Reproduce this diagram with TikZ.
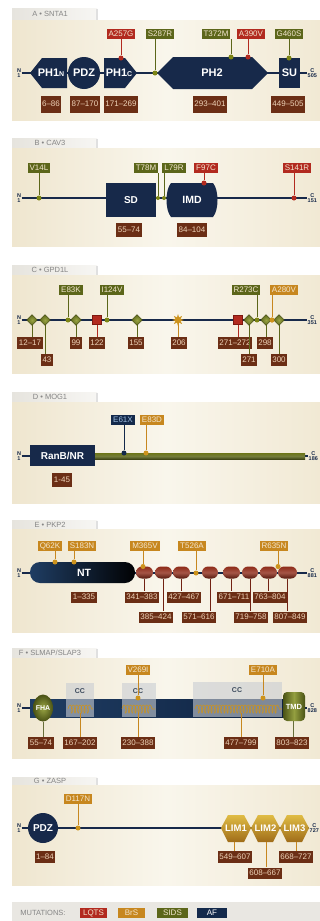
\documentclass[tikz,border=0pt]{standalone}
\usepackage{fontspec}
\setmainfont{Liberation Sans}
\usetikzlibrary{shapes.geometric,shapes.misc,decorations.pathmorphing,calc}
\definecolor{navy}{HTML}{17294A}
\definecolor{lqts}{HTML}{B22A1F}
\definecolor{lqtsd}{HTML}{7E1810}
\definecolor{brs}{HTML}{C7871F}
\definecolor{sids}{HTML}{5C661A}
\definecolor{sidsl}{HTML}{9AA544}
\definecolor{afc}{HTML}{13294B}
\definecolor{brn}{HTML}{6B2E15}
\definecolor{mtext}{HTML}{F3E6CF}
\definecolor{rtext}{HTML}{EED3B8}
\definecolor{afblue}{HTML}{9DBDE0}
\definecolor{tabL}{HTML}{E6E4DE}
\definecolor{tabR}{HTML}{F7F6F3}
\definecolor{bodyL}{HTML}{EFE6CF}
\definecolor{bodyM}{HTML}{F9F6EC}
\definecolor{bodyR}{HTML}{F1E9D4}
\definecolor{legbg}{HTML}{E9E7E2}
\definecolor{tabtext}{HTML}{858585}
\definecolor{ccgrey}{HTML}{C9CDD3}
\definecolor{cctext}{HTML}{3C4A5C}
\definecolor{repred}{HTML}{8E2A18}
\definecolor{barL}{HTML}{1F3D63}
\definecolor{barR}{HTML}{0F2240}
\tikzset{
  tabtxt/.style={text=tabtext, font=\fontsize{7.5}{8}\selectfont, inner sep=0pt},
  mut/.style={inner xsep=2pt, inner ysep=0pt, minimum height=10pt, text=mtext, font=\fontsize{8}{8}\selectfont},
  lq/.style={mut, fill=lqts},
  br/.style={mut, fill=brs},
  si/.style={mut, fill=sids},
  af/.style={mut, fill=afc, text=afblue},
  rng/.style={fill=brn, text=rtext, inner xsep=1.5pt, inner ysep=0pt, minimum height=12pt, font=\fontsize{8}{8}\selectfont},
  dom/.style={text=white, inner sep=0pt, font=\bfseries\fontsize{11}{11}\selectfont},
  endlab/.style={font=\bfseries\fontsize{5.5}{5.5}\selectfont, align=center, text=navy, inner sep=0.5pt},
  stem/.style={line width=0.8pt},
  bb/.style={draw=navy, line width=1.2pt},
  mdot/.style={circle, inner sep=0pt, minimum size=5pt},
  dmd/.style={diamond, inner sep=0pt, minimum size=11pt, shade, inner color=sidsl, outer color=sids, draw=sids!70!black, line width=0.3pt},
  sqr/.style={rectangle, inner sep=0pt, minimum size=9pt, fill=lqts, draw=lqtsd, line width=0.4pt},
  rep/.style={rounded rectangle, inner sep=0pt, minimum height=12pt, top color=repred, bottom color=repred!60!black, middle color=repred!80!white},
  coilline/.style={brs!90!yellow, line width=0.55pt, decorate, decoration={coil, aspect=0.35, segment length=3.2pt, amplitude=4pt}},
}
\newcommand{\mypanel}[5]{%
  \shade[left color=tabL, right color=tabR] (12,#1) rectangle (97,#2);
  \fill[black!12] (96,#1+1) rectangle (97.5,#2);
  \node[tabtxt] (#5) at (50,{(#1+#2)/2}) {#4};
  \shade[left color=bodyL, right color=bodyR, middle color=bodyM] (12,#2) rectangle (320,#3);
}
\begin{document}
\begin{tikzpicture}[x=1pt,y=-1pt]
\useasboundingbox (0,0) rectangle (320,921);
\fill[white] (0,0) rectangle (320,921);

% ================= A  SNTA1
\mypanel{8}{20}{120}{A \textbullet{} SNTA1}{tabA}
\node[endlab] (nA) at (19,73) {N\\1};
\node[endlab, anchor=west] (cA) at (307,73) {C\\505};
\draw[bb] (nA.east) -- (cA.west);
\fill[navy] (30,73) -- (42,58) -- (67,58) -- (67,88) -- (42,88) -- cycle;
\node[dom] (ph1n) at (51,73) {PH1{\fontsize{7}{7}\selectfont N}};
\fill[navy] (84,73) circle[radius=16pt];
\node[dom] (pdzA) at (84,73) {PDZ};
\fill[navy] (104,58) -- (125,58) -- (137,73) -- (125,88) -- (104,88) -- cycle;
\node[dom] (ph1c) at (119,73) {PH1{\fontsize{7}{7}\selectfont C}};
\fill[navy] (157,73) -- (173,57) -- (252,57) -- (268,73) -- (252,89) -- (173,89) -- cycle;
\node[dom] (ph2) at (212,73) {PH2};
\fill[navy] (279,58) rectangle (300,88);
\node[dom] (su) at (289.5,73) {SU};
% mutations
\node[lq] (mA1) at (121,34) {A257G};
\node[si] (mA2) at (160,34) {S287R};
\node[si] (mA3) at (216,34) {T372M};
\node[lq] (mA4) at (251,34) {A390V};
\node[si] (mA5) at (289,34) {G460S};
\node[mdot, fill=lqts] (pA1) at (121,58) {};
\node[mdot, fill=sids!80!yellow] (pA2) at (155,73) {};
\node[mdot, fill=sids!80!yellow] (pA3) at (231,57) {};
\node[mdot, fill=lqts] (pA4) at (248,57) {};
\node[mdot, fill=sids!80!yellow] (pA5) at (289,58) {};
\draw[stem, lqts] (mA1.south -| pA1) -- (pA1);
\draw[stem, sids] (mA2.south -| pA2) -- (pA2);
\draw[stem, sids] (mA3.south -| pA3) -- (pA3);
\draw[stem, lqts] (mA4.south -| pA4) -- (pA4);
\draw[stem, sids] (mA5.south -| pA5) -- (pA5);
% ranges
\node[rng, minimum height=17pt] (rA1) at (51,104) {6–86};
\node[rng, minimum height=17pt] (rA2) at (85,104) {87–170};
\node[rng, minimum height=17pt] (rA3) at (121,104) {171–269};
\node[rng, minimum height=17pt] (rA4) at (210,104) {293–401};
\node[rng, minimum height=17pt] (rA5) at (288,104) {449–505};

% ================= B  CAV3
\mypanel{138}{148}{246}{B \textbullet{} CAV3}{tabB}
\node[endlab] (nB) at (19,198) {N\\1};
\node[endlab, anchor=west] (cB) at (307,198) {C\\151};
\draw[bb] (nB.east) -- (cB.west);
\fill[navy] (106,183) rectangle (156,217);
\node[dom, font=\bfseries\fontsize{10}{10}\selectfont] (sd) at (131,200) {SD};
\fill[navy] (171,183) -- (213,183) .. controls (219,190) and (219,210) .. (213,217) -- (171,217) .. controls (165,210) and (165,190) .. (171,183) -- cycle;
\node[dom, font=\bfseries\fontsize{10.5}{10.5}\selectfont] (imd) at (192,200) {IMD};
\node[si] (mB1) at (39,168) {V14L};
\node[si] (mB2) at (146,168) {T78M};
\node[si] (mB3) at (174,168) {L79R};
\node[lq] (mB4) at (206,168) {F97C};
\node[lq] (mB5) at (297,168) {S141R};
\node[mdot, fill=sids!80!yellow] (pB1) at (39,198) {};
\node[mdot, fill=sids!80!yellow, minimum size=4pt] (pB2) at (158,198) {};
\node[mdot, fill=sids!80!yellow, minimum size=4pt] (pB3) at (164,198) {};
\node[mdot, fill=lqts] (pB4) at (204,183) {};
\node[mdot, fill=lqts] (pB5) at (294,198) {};
\draw[stem, sids] (mB1.south -| pB1) -- (pB1);
\draw[stem, sids] (mB2.south -| pB2) -- (pB2);
\draw[stem, sids] (mB3.south -| pB3) -- (pB3);
\draw[stem, lqts] (mB4.south -| pB4) -- (pB4);
\draw[stem, lqts] (mB5.south -| pB5) -- (pB5);
\node[rng, minimum height=14pt] (rB1) at (129,230) {55–74};
\node[rng, minimum height=14pt] (rB2) at (192,230) {84–104};

% ================= C  GPD1L
\mypanel{265}{275}{373}{C \textbullet{} GPD1L}{tabC}
\node[endlab] (nC) at (19,320) {N\\1};
\node[endlab, anchor=west] (cC) at (307,320) {C\\351};
\draw[bb] (nC.east) -- (cC.west);
\node[si] (mC1) at (71,290) {E83K};
\node[si] (mC2) at (112,290) {I124V};
\node[si] (mC3) at (246,290) {R273C};
\node[br] (mC4) at (284,290) {A280V};
\node[mdot, fill=sids!80!yellow] (pC1) at (68,320) {};
\node[mdot, fill=sids!80!yellow] (pC2) at (107,320) {};
\node[mdot, fill=sids!80!yellow] (pC3) at (257,320) {};
\node[mdot, fill=brs!90!yellow] (pC4) at (272,320) {};
\draw[stem, sids] (mC1.south -| pC1) -- (pC1);
\draw[stem, sids] (mC2.south -| pC2) -- (pC2);
\draw[stem, sids] (mC3.south -| pC3) -- (pC3);
\draw[stem, brs] (mC4.south -| pC4) -- (pC4);
% ranges
\node[rng] (rC1) at (30,343) {12–17};
\node[rng] (rC2) at (47,360) {43};
\node[rng] (rC3) at (76,343) {99};
\node[rng] (rC4) at (97,343) {122};
\node[rng] (rC5) at (136,343) {155};
\node[rng] (rC6) at (179,343) {206};
\node[rng] (rC7) at (235,343) {271–272};
\node[rng] (rC8) at (249,360) {271};
\node[rng] (rC9) at (265,343) {298};
\node[rng] (rC10) at (279,360) {300};
% features
\coordinate (fC1) at (32,320);
\coordinate (fC2) at (45,320);
\coordinate (fC3) at (76,320);
\coordinate (fC4) at (97,320);
\coordinate (fC5) at (137,320);
\coordinate (fC6) at (178,320);
\coordinate (fC7) at (238,320);
\coordinate (fC8) at (249,320);
\coordinate (fC9) at (266,320);
\coordinate (fC10) at (279,320);
\draw[stem, sids] (fC1) -- (fC1 |- rC1.north);
\draw[stem, sids] (fC2) -- (fC2 |- rC2.north);
\draw[stem, sids] (fC3) -- (fC3 |- rC3.north);
\draw[stem, lqts] (fC4) -- (fC4 |- rC4.north);
\draw[stem, sids] (fC5) -- (fC5 |- rC5.north);
\draw[stem, brs] (fC6) -- (fC6 |- rC6.north);
\draw[stem, lqts] (fC7) -- (fC7 |- rC7.north);
\draw[stem, sids] (fC8) -- (fC8 |- rC8.north);
\draw[stem, sids] (fC9) -- (fC9 |- rC9.north);
\draw[stem, sids] (fC10) -- (fC10 |- rC10.north);
\node[dmd] (dC1) at (fC1) {};
\node[dmd] (dC2) at (fC2) {};
\node[dmd] (dC3) at (fC3) {};
\node[sqr] (sC4) at (fC4) {};
\node[dmd] (dC5) at (fC5) {};
\node[star, star points=8, star point ratio=2.2, inner sep=0pt, minimum size=12pt, fill=brs!90!yellow] (stC6) at (fC6) {};
\node[sqr] (sC7) at (fC7) {};
\node[dmd] (dC8) at (fC8) {};
\node[dmd] (dC9) at (fC9) {};
\node[dmd] (dC10) at (fC10) {};
\node[mdot, fill=brs!90!yellow] (pC4b) at (272,320) {};

% ================= D  MOG1
\mypanel{392}{402}{503}{D \textbullet{} MOG1}{tabD}
\node[endlab] (nD) at (19,456) {N\\1};
\node[endlab, anchor=west] (cD) at (308,456) {C\\186};
\draw[bb] (nD.east) -- (cD.west);
\shade[top color=sids!90!yellow, bottom color=sids!60!black, middle color=sids!85!white] (95,453) rectangle (305,459.5);
\fill[navy] (30,445) rectangle (95,466);
\node[dom, font=\bfseries\fontsize{10}{10}\selectfont] (ranb) at (62.5,456) {RanB/NR};
\node[af] (mD1) at (123,420) {E61X};
\node[br] (mD2) at (152,420) {E83D};
\node[mdot, fill=afc] (pD1) at (124,453) {};
\node[mdot, fill=brs!90!yellow] (pD2) at (146,453) {};
\draw[stem, afc] (mD1.south -| pD1) -- (pD1);
\draw[stem, brs] (mD2.south -| pD2) -- (pD2);
\node[rng, minimum height=14pt] (rD1) at (62,480) {1-45};

% ================= E  PKP2
\mypanel{520}{529}{632}{E \textbullet{} PKP2}{tabE}
\node[endlab] (nE) at (19,573) {N\\1};
\node[endlab, anchor=west] (cE) at (307,573) {C\\881};
\draw[bb] (nE.east) -- (cE.west);
\shade[left color=barL, right color=black!95!navy, rounded corners=10pt] (30,562) rectangle (135,583);
\node[dom, font=\bfseries\fontsize{10.5}{10.5}\selectfont] (nt) at (84,573) {NT};
\node[rep, minimum width=17pt] (e1) at (144.5,572.5) {};
\node[rep, minimum width=17pt] (e2) at (163.5,572.5) {};
\node[rep, minimum width=17pt] (e3) at (181.5,572.5) {};
\node[rep, minimum width=16pt] (e4) at (210,572.5) {};
\node[rep, minimum width=17pt] (e5) at (231.5,572.5) {};
\node[rep, minimum width=16pt] (e6) at (250,572.5) {};
\node[rep, minimum width=17pt] (e7) at (268.5,572.5) {};
\node[rep, minimum width=19pt] (e8) at (287.5,572.5) {};
\node[br] (mE1) at (50,546) {Q62K};
\node[br] (mE2) at (82,546) {S183N};
\node[br] (mE3) at (145,546) {M365V};
\node[br] (mE4) at (192,546) {T526A};
\node[br] (mE5) at (274,546) {R635N};
\node[mdot, fill=brs!90!yellow] (pE1) at (55,562) {};
\node[mdot, fill=brs!90!yellow] (pE2) at (74,562) {};
\node[mdot, fill=brs!90!yellow] (pE3) at (143,566.5) {};
\node[mdot, fill=brs!90!yellow] (pE4) at (196,573) {};
\node[mdot, fill=brs!90!yellow] (pE5) at (278,566.5) {};
\draw[stem, brs] (mE1.south -| pE1) -- (pE1);
\draw[stem, brs] (mE2.south -| pE2) -- (pE2);
\draw[stem, brs] (mE3.south -| pE3) -- (pE3);
\draw[stem, brs] (mE4.south -| pE4) -- (pE4);
\draw[stem, brs] (mE5.south -| pE5) -- (pE5);
\node[rng, minimum height=11pt] (rE0) at (84,597) {1–335};
\node[rng, minimum height=11pt] (rE1) at (142,597) {341–383};
\node[rng, minimum height=11pt] (rE2) at (156,617) {385–424};
\node[rng, minimum height=11pt] (rE3) at (184,597) {427–467};
\node[rng, minimum height=11pt] (rE4) at (199,617) {571–616};
\node[rng, minimum height=11pt] (rE5) at (234,597) {671–711};
\node[rng, minimum height=11pt] (rE6) at (251,617) {719–758};
\node[rng, minimum height=11pt] (rE7) at (270,597) {763–804};
\node[rng, minimum height=11pt] (rE8) at (290,617) {807–849};
\foreach \i in {1,...,8}{\draw[stem, repred!80!black] (e\i.south) -- (e\i.south |- rE\i.north);}

% ================= F  SLMAP/SLAP3
\mypanel{648}{658}{758}{F \textbullet{} SLMAP/SLAP3}{tabF}
\node[endlab] (nF) at (19,708) {N\\1};
\node[endlab, anchor=west] (cF) at (307,708) {C\\828};
\draw[bb] (nF.east) -- (cF.west);
\shade[left color=barL, right color=barR] (30,699) rectangle (284,717);
\fill[ccgrey, opacity=0.6] (66,683) rectangle (94,717);
\fill[ccgrey, opacity=0.6] (122,683) rectangle (156,717);
\fill[ccgrey, opacity=0.6] (193,682) rectangle (282,717);
\node[font=\bfseries\fontsize{7}{7}\selectfont, text=cctext, inner sep=0pt] (cc1) at (80,691) {CC};
\node[font=\bfseries\fontsize{7}{7}\selectfont, text=cctext, inner sep=0pt] (cc2) at (138,691) {CC};
\node[font=\bfseries\fontsize{7}{7}\selectfont, text=cctext, inner sep=0pt] (cc3) at (237,690) {CC};
\draw[coilline] (68,709) -- (93,709);
\draw[coilline] (122,709) -- (155,709);
\draw[coilline] (195,709) -- (282,709);
\shade[inner color=sidsl, outer color=sids!80!black] (43,708) ellipse[x radius=10pt, y radius=13.5pt];
\node[dom, font=\bfseries\fontsize{7}{7}\selectfont] (fha) at (43,708) {FHA};
\shade[left color=sids!80!black, right color=sids!80!black, middle color=sidsl!90!sids, rounded corners=4pt] (283,692) rectangle (305,721);
\node[dom, font=\bfseries\fontsize{7.5}{7.5}\selectfont] (tmd) at (294,707) {TMD};
\node[br] (mF1) at (138,670) {V269I};
\node[br] (mF2) at (263,670) {E710A};
\node[mdot, fill=brs!90!yellow] (pF1) at (138,698) {};
\node[mdot, fill=brs!90!yellow] (pF2) at (263,698) {};
\draw[stem, brs] (mF1.south -| pF1) -- (pF1);
\draw[stem, brs] (mF2.south -| pF2) -- (pF2);
\node[rng] (rF1) at (41,743) {55–74};
\node[rng] (rF2) at (80,743) {167–202};
\node[rng] (rF3) at (138,743) {230–388};
\node[rng] (rF4) at (241,743) {477–799};
\node[rng] (rF5) at (292,743) {803–823};
\coordinate (fF1) at (43,721.5);
\coordinate (fF2) at (80,713);
\coordinate (fF3) at (138,713);
\coordinate (fF4) at (241,713);
\coordinate (fF5) at (293,721);
\draw[stem, sids!70!gray] (fF1) -- (fF1 |- rF1.north);
\draw[stem, brs] (fF2) -- (fF2 |- rF2.north);
\draw[stem, brs] (fF3) -- (fF3 |- rF3.north);
\draw[stem, brs] (fF4) -- (fF4 |- rF4.north);
\draw[stem, sids!70!gray] (fF5) -- (fF5 |- rF5.north);

% ================= G  ZASP
\mypanel{777}{785}{885}{G \textbullet{} ZASP}{tabG}
\node[endlab] (nG) at (19,828) {N\\1};
\node[endlab, anchor=west] (cG) at (309,828) {C\\727};
\draw[bb] (nG.east) -- (cG.west);
\fill[navy] (43,828) circle[radius=15pt];
\node[dom, font=\bfseries\fontsize{10}{10}\selectfont] (pdzG) at (43,828) {PDZ};
\foreach \a/\b/\n in {221/251/1, 251/280/2, 280/309/3}{
  \shade[top color=brs!70!yellow!80!white, bottom color=brs!80!black] (\a,828) -- (\a+7,815) -- (\b-7,815) -- (\b,828) -- (\b-7,842) -- (\a+7,842) -- cycle;
  \node[dom, font=\bfseries\fontsize{9.5}{9.5}\selectfont] (lim\n) at ({(\a+\b)/2},828) {LIM\n};
}
\node[br] (mG1) at (78,799) {D117N};
\node[mdot, fill=brs!90!yellow] (pG1) at (78,828) {};
\draw[stem, brs] (mG1.south -| pG1) -- (pG1);
\node[rng] (rG0) at (45,857) {1–84};
\node[rng] (rG1) at (235,857) {549–607};
\node[rng, minimum height=11pt] (rG2) at (265,873) {608–667};
\node[rng] (rG3) at (296,857) {668–727};
\coordinate (fG1) at (234,842);
\coordinate (fG2) at (266,842);
\coordinate (fG3) at (296,842);
\draw[stem, brs] (fG1) -- (fG1 |- rG1.north);
\draw[stem, brs] (fG2) -- (fG2 |- rG2.north);
\draw[stem, brs] (fG3) -- (fG3 |- rG3.north);

% ================= legend
\fill[legbg] (12,902) rectangle (320,921);
\node[text=tabtext, font=\fontsize{7.5}{8}\selectfont, inner sep=0pt] (legt) at (43,913) {MUTATIONS:};
\node[lq, minimum width=27pt] (lg1) at (93.5,913) {LQTS};
\node[br, minimum width=27pt] (lg2) at (131.5,913) {BrS};
\node[si, minimum width=31pt] (lg3) at (172.5,913) {SIDS};
\node[af, minimum width=30pt, text=white] (lg4) at (212,913) {AF};
\end{tikzpicture}
\end{document}
